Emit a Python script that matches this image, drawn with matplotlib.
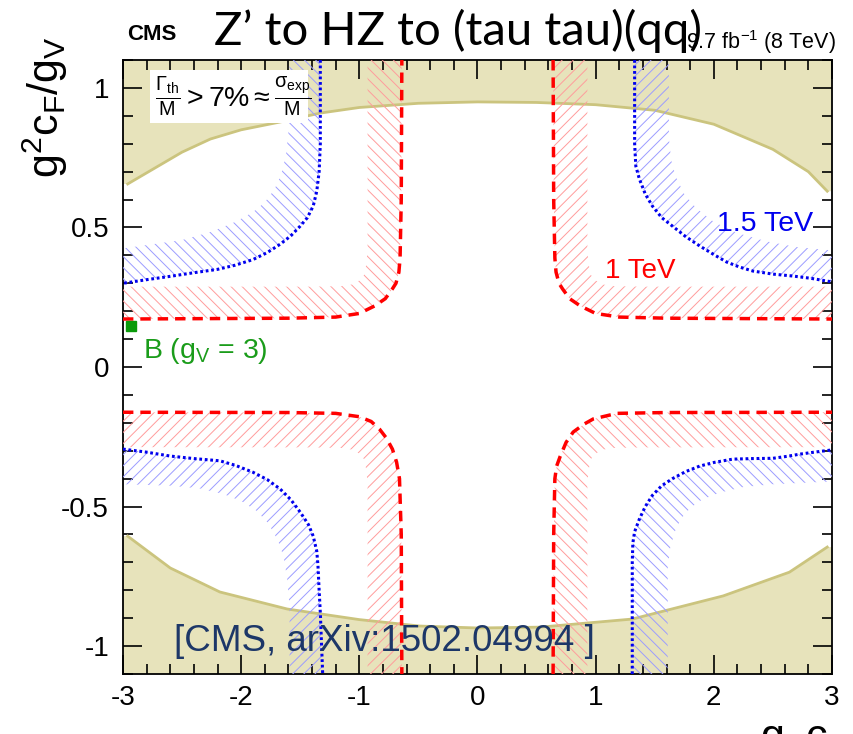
import matplotlib as mpl
mpl.use('Agg')
import matplotlib.pyplot as plt
from matplotlib.patches import Rectangle

plt.rcParams['font.family'] = ['Liberation Sans', 'DejaVu Sans']
plt.rcParams['mathtext.fontset'] = 'custom'
plt.rcParams['mathtext.rm'] = 'Liberation Sans'
plt.rcParams['mathtext.it'] = 'Liberation Sans'
plt.rcParams['mathtext.bf'] = 'Liberation Sans:bold'
plt.rcParams['hatch.linewidth'] = 0.7

#width excluded region (Gamma_th/M > 7%), upper and lower boundaries
wid_up_x = [-3.0, -2.96, -2.5, -2.26, -2.0, -1.67, -1.33, -1.0, -0.5, 0.0, 0.5, 1.0, 1.5, 2.0, 2.5, 2.8, 2.96, 3.0]
wid_up_y = [0.656, 0.656, 0.77, 0.817, 0.85, 0.878, 0.91, 0.93, 0.945, 0.95, 0.948, 0.94, 0.92, 0.87, 0.78, 0.70, 0.63, 0.63]
wid_lo_x = [-3.0, -2.96, -2.6, -2.18, -1.61, -1.0, -0.49, 0.0, 0.53, 1.31, 2.08, 2.64, 2.96, 3.0]
wid_lo_y = [-0.606, -0.606, -0.72, -0.806, -0.867, -0.905, -0.928, -0.935, -0.932, -0.903, -0.82, -0.735, -0.645, -0.645]

#1 TeV expected limit, one branch per quadrant: (line x, line y, band edge x, band edge y)
tev1_ur = ([0.64, 0.645, 0.655, 0.665, 0.69, 0.72, 0.78, 0.87, 1.0, 1.2, 1.6, 3.0],
           [1.1, 0.6, 0.39, 0.34, 0.30, 0.28, 0.245, 0.219, 0.192, 0.179, 0.175, 0.172],
           [0.93, 0.93, 0.94, 0.96, 1.0, 1.06, 1.15, 1.4, 3.0],
           [1.1, 0.42, 0.37, 0.33, 0.31, 0.296, 0.29, 0.288, 0.288])
tev1_lr = ([0.64, 0.645, 0.655, 0.67, 0.70, 0.75, 0.81, 0.9, 0.98, 1.18, 1.6, 3.0],
           [-1.1, -0.6, -0.40, -0.355, -0.32, -0.27, -0.233, -0.205, -0.186, -0.166, -0.163, -0.162],
           [0.93, 0.93, 0.94, 0.96, 1.0, 1.06, 1.15, 1.4, 3.0],
           [-1.1, -0.42, -0.37, -0.33, -0.31, -0.296, -0.29, -0.288, -0.287])
tev1_ll = ([-3.0, -1.6, -1.2, -1.0, -0.9, -0.83, -0.77, -0.72, -0.685, -0.66, -0.645, -0.64],
           [-0.162, -0.163, -0.166, -0.178, -0.195, -0.222, -0.255, -0.294, -0.34, -0.40, -0.6, -1.1],
           [-3.0, -1.4, -1.15, -1.06, -1.0, -0.96, -0.94, -0.93, -0.93],
           [-0.287, -0.288, -0.29, -0.296, -0.31, -0.33, -0.37, -0.42, -1.1])
tev1_ul = ([-3.0, -1.6, -1.2, -1.0, -0.87, -0.78, -0.72, -0.69, -0.665, -0.655, -0.645, -0.64],
           [0.172, 0.175, 0.179, 0.192, 0.219, 0.245, 0.28, 0.30, 0.34, 0.39, 0.6, 1.1],
           [-3.0, -1.4, -1.15, -1.06, -1.0, -0.96, -0.94, -0.93, -0.93],
           [0.288, 0.288, 0.29, 0.296, 0.31, 0.33, 0.37, 0.42, 1.1])

#1.5 TeV expected limit
tev15_ur = ([1.33, 1.33, 1.34, 1.37, 1.42, 1.48, 1.56, 1.65, 1.76, 1.88, 2.0, 2.11, 2.22, 2.33, 2.5, 2.67, 2.82, 3.0],
            [1.1, 0.80, 0.72, 0.674, 0.62, 0.577, 0.535, 0.505, 0.468, 0.434, 0.403, 0.376, 0.358, 0.344, 0.333, 0.326, 0.318, 0.305],
            [1.62, 1.62, 1.64, 1.68, 1.75, 1.85, 2.0, 2.2, 2.45, 2.7, 3.0],
            [1.1, 0.82, 0.74, 0.68, 0.62, 0.57, 0.52, 0.48, 0.45, 0.43, 0.418])
tev15_lr = ([1.31, 1.31, 1.315, 1.33, 1.37, 1.42, 1.48, 1.56, 1.65, 1.76, 1.88, 2.0, 2.16, 2.33, 2.5, 2.62, 2.73, 2.85, 3.0],
            [-1.1, -0.70, -0.63, -0.59, -0.545, -0.50, -0.46, -0.425, -0.40, -0.375, -0.355, -0.342, -0.33, -0.328, -0.327, -0.32, -0.312, -0.305, -0.297],
            [1.61, 1.61, 1.63, 1.67, 1.72, 1.8, 1.9, 2.05, 2.25, 2.5, 2.75, 3.0],
            [-1.1, -0.72, -0.65, -0.59, -0.545, -0.505, -0.475, -0.45, -0.43, -0.42, -0.415, -0.41])
tev15_ll = ([-3.0, -2.8, -2.6, -2.4, -2.18, -2.05, -1.9, -1.78, -1.67, -1.58, -1.5, -1.43, -1.39, -1.36, -1.35, -1.34, -1.33, -1.31],
            [-0.294, -0.305, -0.319, -0.328, -0.336, -0.352, -0.377, -0.403, -0.437, -0.475, -0.52, -0.565, -0.606, -0.66, -0.71, -0.80, -0.88, -1.1],
            [-3.0, -2.6, -2.35, -2.15, -2.0, -1.87, -1.77, -1.69, -1.64, -1.61, -1.59, -1.59],
            [-0.42, -0.425, -0.435, -0.455, -0.48, -0.515, -0.56, -0.62, -0.68, -0.76, -0.86, -1.1])
tev15_ul = ([-1.33, -1.33, -1.34, -1.36, -1.39, -1.44, -1.5, -1.58, -1.67, -1.78, -1.9, -2.05, -2.2, -2.4, -2.6, -2.8, -3.0],
            [1.1, 0.80, 0.70, 0.63, 0.577, 0.535, 0.505, 0.47, 0.44, 0.41, 0.385, 0.365, 0.35, 0.338, 0.325, 0.313, 0.30],
            [-1.59, -1.60, -1.62, -1.66, -1.72, -1.8, -1.9, -2.05, -2.25, -2.5, -2.75, -3.0],
            [1.1, 0.84, 0.76, 0.69, 0.635, 0.59, 0.555, 0.52, 0.485, 0.455, 0.44, 0.425])

#benchmark B point
bench_x = [-2.93]
bench_y = [0.147]

xticks = [-3, -2, -1, 0, 1, 2, 3]
yticks = [-1, -0.5, 0, 0.5, 1]
ytick_labels = ['-1', '-0.5', '0', '0.5', '1']

fig = plt.figure(figsize=(8.54, 7.34), dpi=100)
ax = fig.add_axes([0.144, 0.0817, 0.8302, 0.8365])
ax.set_xlim(-3, 3)
ax.set_ylim(-1.1, 1.1)

beige = '#e7e3bb'
ax.fill_between(wid_up_x, wid_up_y, 1.1, facecolor=beige, edgecolor='none', zorder=1)
ax.fill_between(wid_lo_x, wid_lo_y, -1.1, facecolor=beige, edgecolor='none', zorder=1)
ax.plot(wid_up_x[1:-1], wid_up_y[1:-1], color='#cbc47e', lw=2, zorder=2)
ax.plot(wid_lo_x[1:-1], wid_lo_y[1:-1], color='#cbc47e', lw=2, zorder=2)

def draw_branch(br, col, hcol, hatch, style):
    lx, ly, ox, oy = br
    ax.fill(list(lx) + list(ox[::-1]), list(ly) + list(oy[::-1]),
            facecolor='none', edgecolor=hcol, hatch=hatch, linewidth=0, zorder=3)
    ax.plot(lx, ly, color=col, zorder=5, **style)

red_style = dict(lw=2.5, dashes=(3, 2))
blue_style = dict(lw=2.2, dashes=(0.9, 0.9))
for br, h in [(tev1_ur, '///'), (tev1_lr, '\\\\\\'), (tev1_ll, '///'), (tev1_ul, '\\\\\\')]:
    draw_branch(br, '#ff0000', '#ff9c9c', h, red_style)
for br, h in [(tev15_ur, '///'), (tev15_lr, '\\\\\\'), (tev15_ll, '///'), (tev15_ul, '\\\\\\')]:
    draw_branch(br, '#0000ee', '#9c9cff', h, blue_style)

ax.plot(bench_x, bench_y, 's', ms=7, color='#0a9a0a', zorder=6)
ax.text(-2.83, 0.057, r'B (g$_{V}$ = 3)', color='#1a9c1a', fontsize=20.5, va='center', zorder=6)
ax.text(1.38, 0.345, '1 TeV', color='#ff0000', fontsize=20, ha='center', va='center', zorder=6)
ax.text(2.43, 0.513, '1.5 TeV', color='#0000ee', fontsize=20.5, ha='center', va='center', zorder=6)

#white box with the width condition
ax.add_patch(Rectangle((-2.77, 0.875), 1.34, 0.19, facecolor='white', edgecolor='none', zorder=4))
ax.text(-2.73, 0.97, r'$\frac{\Gamma_{th}}{M} > 7\% \approx \frac{\sigma_{exp}}{M}$',
        fontsize=20.5, va='center', ha='left', zorder=6)

ax.text(-2.57, -0.985, '[CMS, arXiv:1502.04994 ]', color='#1d3768', fontsize=26.5,
        va='center', ha='left', zorder=7)

ax.set_xticks(xticks)
ax.set_xticklabels([str(t) for t in xticks])
ax.set_yticks(yticks)
ax.set_yticklabels(ytick_labels)
ax.set_xticks([x / 5.0 for x in range(-15, 16)], minor=True)
ax.set_yticks([y / 10.0 for y in range(-11, 12)], minor=True)
ax.tick_params(which='both', direction='in', top=True, right=True, width=1.2, labelsize=20)
ax.tick_params(which='major', length=14)
ax.tick_params(which='minor', length=7)
ax.tick_params(axis='x', pad=8)
ax.tick_params(axis='y', pad=10)
for s in ax.spines.values():
    s.set_linewidth(1.3)

fig.text(45 / 854, 1 - 36 / 734, r'g$^{2}$c$_{F}$/g$_{V}$', rotation=90, fontsize=31,
         ha='center', va='top')
fig.text(760 / 854, -0.02, r'g$_{V}$c$_{H}$', fontsize=31, ha='left', va='baseline')

fig.text(836 / 854, 1 - 42 / 734, r'9.7 fb$^{-1}$ (8 TeV)', fontsize=15.5, ha='right', va='center')
fig.text(127 / 854, 1 - 35 / 734, 'CMS', fontsize=16, weight='bold', va='center')
fig.text(214 / 854, 1 - 31 / 734, 'Z\u2019 to HZ to (tau tau)(qq)', family=['Lato', 'DejaVu Sans'],
         fontsize=34, va='center')

fig.savefig('out.png', dpi=100)
